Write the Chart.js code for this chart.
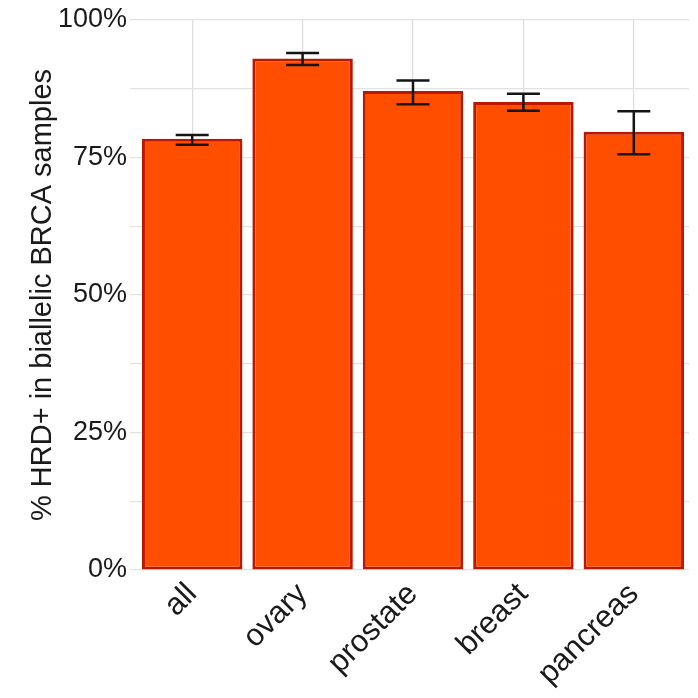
<!DOCTYPE html>
<html>
<head>
<meta charset="utf-8">
<script src="https://cdn.jsdelivr.net/npm/chart.js@4"></script>
<style>
html,body{margin:0;padding:0;background:#fff;}
#wrap{width:698px;height:698px;position:relative;}
</style>
</head>
<body>
<div id="wrap"><canvas id="c" width="698" height="698"></canvas></div>
<script>
const categories = ["all", "ovary", "prostate", "breast", "pancreas"];
const hrdValues = [78.4, 93.0, 87.1, 85.1, 79.7];
const errLow = [77.3, 91.8, 84.7, 83.5, 75.6];
const errHigh = [79.1, 94.0, 89.0, 86.6, 83.4];
const yTicks = [0, 25, 50, 75, 100];

const errorBars = {
  id: 'errorBars',
  afterDatasetsDraw(chart) {
    const ctx = chart.ctx;
    const meta = chart.getDatasetMeta(0);
    const y = chart.scales.y;
    ctx.save();
    ctx.strokeStyle = '#151515';
    ctx.lineWidth = 2.5;
    meta.data.forEach((bar, i) => {
      const x = bar.x;
      const yl = y.getPixelForValue(errLow[i]);
      const yh = y.getPixelForValue(errHigh[i]);
      const hw = 16.5;
      ctx.beginPath();
      ctx.moveTo(x, yl); ctx.lineTo(x, yh);
      ctx.moveTo(x - hw, yl); ctx.lineTo(x + hw, yl);
      ctx.moveTo(x - hw, yh); ctx.lineTo(x + hw, yh);
      ctx.stroke();
    });
    ctx.restore();
  }
};

new Chart(document.getElementById('c'), {
  type: 'bar',
  data: {
    labels: categories,
    datasets: [{
      data: hrdValues,
      backgroundColor: '#ff4e00',
      borderColor: '#bb1800',
      borderWidth: 3,
      borderSkipped: false,
      barPercentage: 0.91,
      categoryPercentage: 1.0
    }]
  },
  options: {
    responsive: false,
    animation: false,
    devicePixelRatio: 1,
    layout: { padding: { top: 20, right: 9, left: 0, bottom: 0 } },
    plugins: { legend: { display: false }, tooltip: { enabled: false } },
    scales: {
      x: {
        grid: { offset: false, color: '#dddddd', lineWidth: 1.2, drawTicks: false },
        border: { display: false },
        ticks: {
          color: '#1a1a1a',
          font: { family: 'Liberation Sans, Arial, sans-serif', size: 31 },
          maxRotation: 45, minRotation: 45, padding: 6
        },
        afterFit(s) { s.height = 128; }
      },
      y: {
        min: 0, max: 100,
        grid: { color: '#e2e2e2', lineWidth: 1.2, drawTicks: true, tickLength: 7, tickColor: '#e2e2e2' },
        border: { display: false },
        ticks: {
          stepSize: 12.5,
          color: '#1a1a1a',
          font: { family: 'Liberation Sans, Arial, sans-serif', size: 27 },
          padding: 3,
          callback: (v) => yTicks.includes(v) ? v + '%' : ''
        },
        title: {
          display: true,
          text: '% HRD+ in biallelic BRCA samples',
          color: '#1a1a1a',
          font: { family: 'Liberation Sans, Arial, sans-serif', size: 29 },
          padding: { top: 26, bottom: 0 }
        },
        afterFit(s) { s.width = 137; }
      }
    }
  },
  plugins: [errorBars]
});
</script>
</body>
</html>
